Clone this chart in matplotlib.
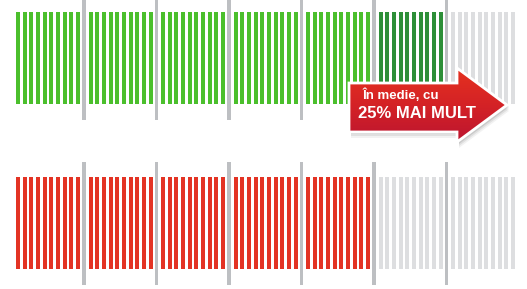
import numpy as np
import matplotlib.pyplot as plt
from matplotlib.patches import Polygon

# pictogram data: each stripe is one unit, 10 stripes per group
n_groups = 7
stripes_per_group = 10
top_base = 50       # green stripes
top_extra = 10      # extra (dark green) stripes
bottom_value = 50   # red stripes
label_line1 = 'În medie, cu'
label_line2 = '25% MAI MULT'

green = '#4BBF2C'
dark_green = '#2D8F38'
red = '#E33324'
empty = '#DDDEE0'
sep_color = '#BDBFC2'

# layout in pixels
x0 = 16.0
group_step = 72.5
stripe_step = 6.67
stripe_w = 4.0


def stripe_centers():
    xs = []
    for g in range(n_groups):
        for i in range(stripes_per_group):
            xs.append(x0 + g * group_step + 2 + i * stripe_step)
    return np.array(xs)


fig = plt.figure(figsize=(5.27, 2.89), dpi=100)
ax = fig.add_axes([0, 0, 1, 1])
ax.set_xlim(0, 527)
ax.set_ylim(289, 0)
ax.axis('off')

xs = stripe_centers()
total = n_groups * stripes_per_group
idx = np.arange(total)

top_cols = np.where(idx < top_base, green,
                    np.where(idx < top_base + top_extra, dark_green, empty))
bot_cols = np.where(idx < bottom_value, red, empty)

ax.bar(xs, 92, bottom=12, width=stripe_w, color=top_cols, align='center')
ax.bar(xs, 92, bottom=177, width=stripe_w, color=bot_cols, align='center')

# group separators
sep_x = [x0 + g * group_step + 68 for g in range(n_groups - 1)]
ax.bar(sep_x, 120, bottom=0, width=3.5, color=sep_color)
ax.bar(sep_x, 123, bottom=162, width=3.5, color=sep_color)

# arrow callout
verts = [(349, 83), (457, 83), (457, 68), (507, 105), (457, 142),
         (457, 132), (349, 132)]
for k, a in [(6, 0.05), (4, 0.07), (2, 0.1)]:
    sh = Polygon([(x + 2, y + k) for x, y in verts], closed=True,
                 facecolor='black', edgecolor='none', alpha=a, zorder=3)
    ax.add_patch(sh)
arrow = Polygon(verts, closed=True, facecolor='none', edgecolor='white',
                lw=2.0, zorder=5)
ax.add_patch(arrow)
grad = np.linspace(0, 1, 100).reshape(-1, 1)
from matplotlib.colors import LinearSegmentedColormap
cmap = LinearSegmentedColormap.from_list('arr', ['#E5311F', '#D42226', '#BC1530'])
im = ax.imshow(grad, cmap=cmap, extent=[349, 507, 142, 68], origin='upper',
               aspect='auto', zorder=4)
clip = Polygon(verts, closed=True, transform=ax.transData)
im.set_clip_path(clip)

ax.text(362, 95, label_line1, color='white', fontsize=9.5, fontweight='bold',
        family='Liberation Sans', ha='left', va='center', zorder=6)
ax.text(358, 114, label_line2, color='white', fontsize=12, fontweight='bold',
        family='Liberation Sans', ha='left', va='center', zorder=6)

fig.savefig('out.png', dpi=100)
